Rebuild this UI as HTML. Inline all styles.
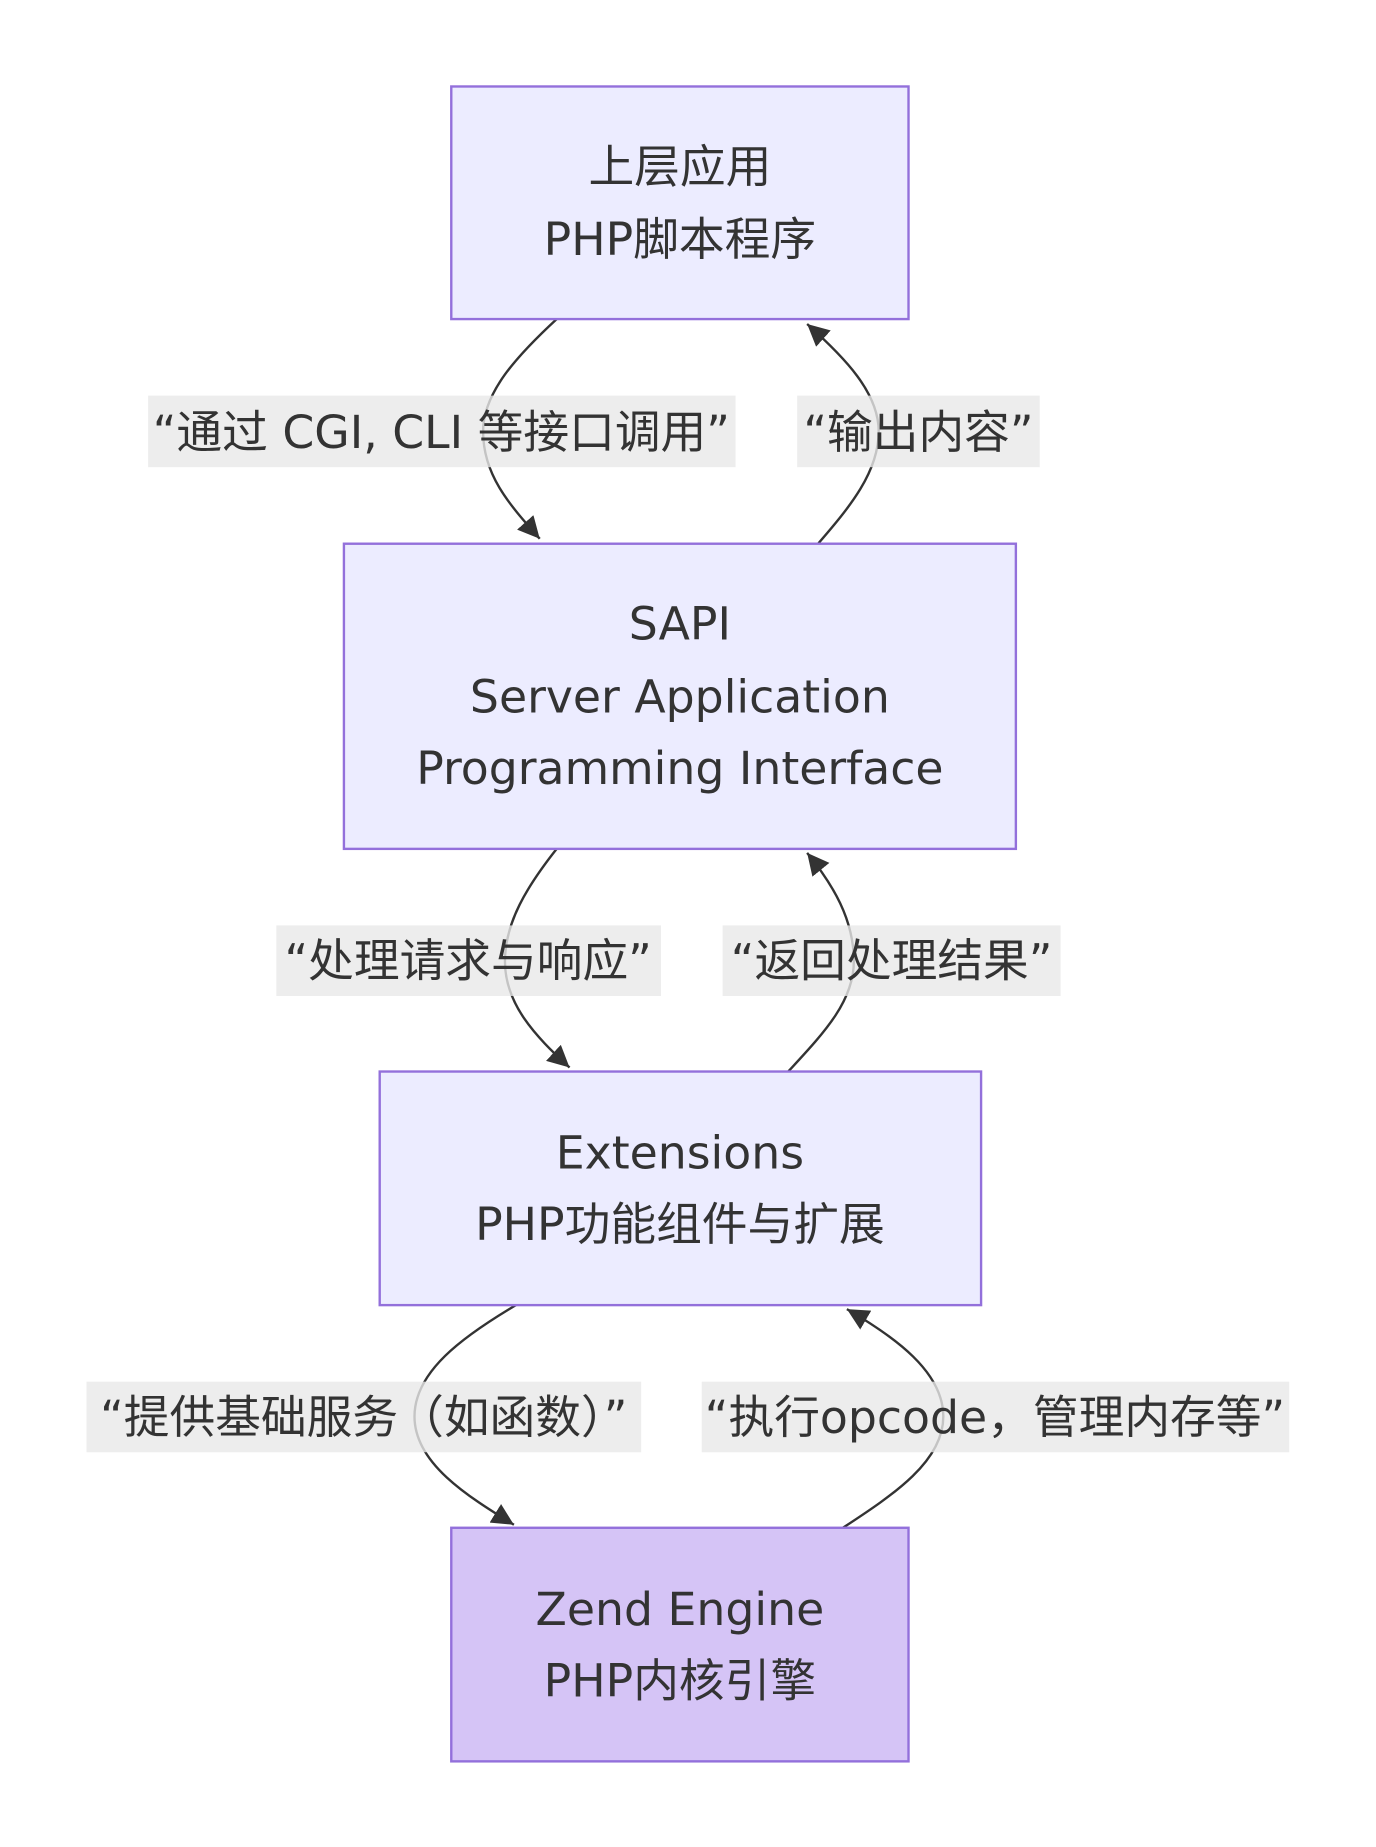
<!DOCTYPE html>
<html><head><meta charset="utf-8"><style>
html,body{margin:0;padding:0;background:#fff;}
svg{display:block;}
text{font-family:"DejaVu Sans","Noto Sans CJK SC",sans-serif;font-size:46px;fill:#333;text-anchor:middle;dominant-baseline:central;}
</style></head><body>
<svg width="1376" height="1847" viewBox="0 0 1376 1847" xmlns="http://www.w3.org/2000/svg">
<defs>
<marker id="a" viewBox="0 0 10 10" refX="10" refY="5" markerWidth="22" markerHeight="22" markerUnits="userSpaceOnUse" orient="auto">
<path d="M0,0 L10,5 L0,10 z" fill="#333"/>
</marker>
</defs>
<g transform="scale(0.994)">
<g fill="none" stroke="#333" stroke-width="2.4">
<path d="M560,321 C520,358 486,395 486,434 C486,478 512,507 543,542" marker-end="url(#a)"/>
<path d="M823,547 C855,510 884,475 884,434 C884,395 850,360 812,326" marker-end="url(#a)"/>
<path d="M560,854 C530,892 508,928 508,967 C508,1010 538,1042 573,1074" marker-end="url(#a)"/>
<path d="M793,1078 C828,1040 859,1008 859,967 C859,925 838,890 812,858" marker-end="url(#a)"/>
<path d="M519,1313 C465,1345 417,1380 417,1425 C417,1472 470,1505 517,1534" marker-end="url(#a)"/>
<path d="M848,1537 C900,1503 949,1470 949,1425 C949,1380 900,1345 852,1317" marker-end="url(#a)"/>
</g>
<g stroke="#9370DB" stroke-width="2.4">
<rect x="454" y="87" width="460" height="234" fill="#ECECFF"/>
<rect x="346" y="547" width="676" height="307" fill="#ECECFF"/>
<rect x="382" y="1078" width="605" height="235" fill="#ECECFF"/>
<rect x="454" y="1537" width="460" height="235" fill="#D5C4F6"/>
</g>
<g fill="rgba(232,232,232,0.8)">
<rect x="149" y="398" width="591" height="72"/>
<rect x="802" y="398" width="244" height="72"/>
<rect x="278" y="931" width="387" height="71"/>
<rect x="727" y="931" width="340" height="71"/>
<rect x="87" y="1390" width="558" height="71"/>
<rect x="706" y="1390" width="591" height="71"/>
</g>
<text x="684" y="168">上层应用</text>
<text x="684" y="241">PHP脚本程序</text>
<text x="684" y="628">SAPI</text>
<text x="684" y="701">Server Application</text>
<text x="684" y="773">Programming Interface</text>
<text x="684" y="1160">Extensions</text>
<text x="684" y="1232">PHP功能组件与扩展</text>
<text x="684" y="1619">Zend Engine</text>
<text x="684" y="1691">PHP内核引擎</text>
<text x="444" y="435">“通过 CGI, CLI 等接口调用”</text>
<text x="924" y="435">“输出内容”</text>
<text x="471" y="967">“处理请求与响应”</text>
<text x="897" y="967">“返回处理结果”</text>
<text x="366" y="1426">“提供基础服务（如函数）”</text>
<text x="1001" y="1426">“执行opcode，管理内存等”</text>
</g>
</svg>
</body></html>
